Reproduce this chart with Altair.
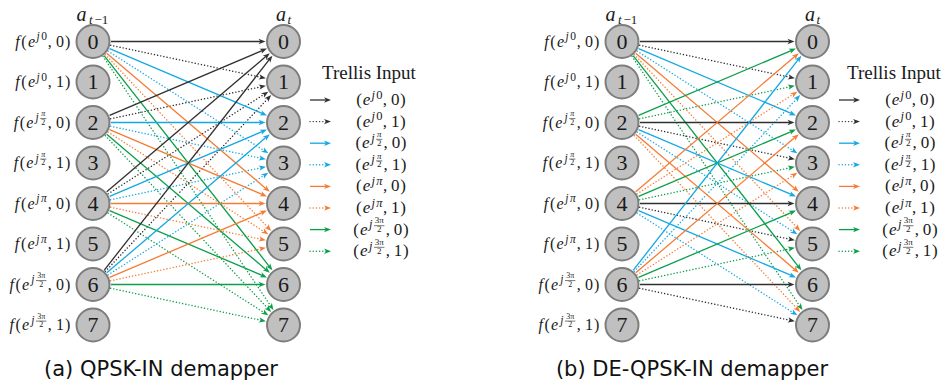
import math
import altair as alt
import pandas as pd

# ------------------------------------------------------------------ data
STATES = [0, 1, 2, 3, 4, 5, 6, 7]
SOURCE_STATES = [0, 2, 4, 6]
PHASES = ["0", "π/2", "π", "3π/2"]          # exponent of e^{j·}
BITS = [0, 1]
INPUT_COLORS = ["#303030", "#15a8e3", "#f47c34", "#0b9f4a"]
PANELS = ["qpsk", "deqpsk"]
CAPTIONS = ["(a) QPSK-IN demapper", "(b) DE-QPSK-IN demapper"]
LEGEND_TITLE = "Trellis Input"


def next_state(panel, s, k, b):
    if panel == "qpsk":
        return 2 * k + b
    return 2 * ((s // 2 + k) % 4) + b


# ------------------------------------------------------------------ layout
W, H = 935, 374
PANEL_DX = [0, 529]
COL_X = [85, 275.5]
ROW_Y0, ROW_DY = 33.5, 40.5
NODE_R = 18.0
ARROW_LEN = 7.0
LEG_X0, LEG_X1 = 302, 323
LEG_LABEL_CX = 373
LEG_Y0, LEG_DY = 92, 21.6
FONT = "Liberation Serif"

BASE, SUP, FRAC = 16, 11.5, 8.0
ADV = {"f": 6.5, "(": 6.5, "e": 8.5, ",": 4.5, " ": 3.5, "d": 9.0, ")": 6.5,
       "j": 5.0, "s0": 6.8, "sπ": 7.2}
FRAC_W = {"π/2": 6.8, "3π/2": 11.0}


def math_label(with_f, k, b):
    """glyph list (x_center_offset, dy, text, size, italic) and fraction bars"""
    g, bars = [], []
    x = 0.0

    def put(t, adv, size, it, dy=0.0):
        nonlocal x
        g.append((x + adv / 2, dy, t, size, it))
        x += adv

    if with_f:
        put("f", ADV["f"], BASE, True)
    put("(", ADV["("], BASE, False)
    put("e", ADV["e"], BASE, True)
    put("j", ADV["j"] + (0.8 if "/" in PHASES[k] else 0), SUP, True, -6.5)
    ph = PHASES[k]
    if ph == "0":
        put("0", ADV["s0"], SUP, False, -6.5)
    elif ph == "π":
        put("π", ADV["sπ"], SUP, True, -6.5)
    else:
        num = ph.split("/")[0]
        w = FRAC_W[ph]
        g.append((x + w / 2, -11.2, num, FRAC, num == "π"))
        g.append((x + w / 2, -2.6, "2", FRAC, False))
        bars.append((x + 0.3, x + w - 0.3, -8.9))
        x += w + 0.8
    put(",", ADV[","], BASE, False)
    x += ADV[" "]
    put(str(b), ADV["d"], BASE, False)
    put(")", ADV[")"], BASE, False)
    return g, bars, x


edges, heads, nodes, texts, fbars = [], [], [], [], []


def add_text(x, y, t, size, italic, color="#1a1a1a", font=FONT, align="center"):
    texts.append(dict(x=x, y=y, label=t, fs=float(size),
                      fst="italic" if italic else "normal",
                      col=color, fnt=font, al=align))


def add_arrow(x1, y1, x2, y2, color, dotted, shorten_start=0.0, shorten_end=0.0):
    dx, dy = x2 - x1, y2 - y1
    L = math.hypot(dx, dy)
    ux, uy = dx / L, dy / L
    sx, sy = x1 + ux * shorten_start, y1 + uy * shorten_start
    tx, ty = x2 - ux * shorten_end, y2 - uy * shorten_end
    ex, ey = tx - ux * (ARROW_LEN - 2.5), ty - uy * (ARROW_LEN - 2.5)
    edges.append(dict(x=sx, y=sy, x2=ex, y2=ey, color=color, dotted=dotted))
    ang = math.degrees(math.atan2(ux, -uy)) % 360
    heads.append(dict(x=tx, y=ty, angle=ang, color=color))


for p, panel in enumerate(PANELS):
    ox = PANEL_DX[p]
    for s in SOURCE_STATES:
        for k in range(4):
            for b in BITS:
                d = next_state(panel, s, k, b)
                add_arrow(ox + COL_X[0], ROW_Y0 + ROW_DY * s,
                          ox + COL_X[1], ROW_Y0 + ROW_DY * d,
                          INPUT_COLORS[k], b == 1, NODE_R, NODE_R)
    for c in range(2):
        for s in STATES:
            nodes.append(dict(x=ox + COL_X[c], y=ROW_Y0 + ROW_DY * s))
            add_text(ox + COL_X[c], ROW_Y0 + ROW_DY * s + 7.3, str(s), 22, False)
    add_text(ox + COL_X[0] - 11.5, 12.5, "a", 20, True)
    add_text(ox + COL_X[0] - 4, 15.5, "t", 13, True, align="left")
    add_text(ox + COL_X[0] + 1.5, 15.5, "−1", 13, False, align="left")
    add_text(ox + COL_X[1] - 2.5, 12.5, "a", 20, True)
    add_text(ox + COL_X[1] + 4, 15.5, "t", 13, True, align="left")
    for s in STATES:
        g, bars, wtot = math_label(True, s // 2, s % 2)
        x0 = ox + COL_X[0] - 22 - wtot
        yb = ROW_Y0 + ROW_DY * s + 5
        for gx, gdy, t, size, it in g:
            add_text(x0 + gx, yb + gdy, t, size, it)
        for bx0, bx1, bdy in bars:
            fbars.append(dict(x=x0 + bx0, x2=x0 + bx1, y=yb + bdy))
    add_text(min(ox + 361, W - 49), 71, LEGEND_TITLE, 19, False)
    for k in range(4):
        for b in BITS:
            i = 2 * k + b
            yy = LEG_Y0 + LEG_DY * i
            add_arrow(ox + LEG_X0, yy, ox + LEG_X1, yy, INPUT_COLORS[k], b == 1)
            g, bars, wtot = math_label(False, k, b)
            x0 = ox + LEG_LABEL_CX - wtot / 2
            yb = yy + 5
            for gx, gdy, t, size, it in g:
                add_text(x0 + gx, yb + gdy, t, size + 1, it)
            for bx0, bx1, bdy in bars:
                fbars.append(dict(x=x0 + bx0, x2=x0 + bx1, y=yb + bdy))

add_text(153, 368, CAPTIONS[0], 21, False, color="#111111", font="DejaVu Sans")
add_text(684, 368, CAPTIONS[1], 21, False, color="#111111", font="DejaVu Sans")

edges_df = pd.DataFrame(edges)
heads_df = pd.DataFrame(heads)
nodes_df = pd.DataFrame(nodes)
texts_df = pd.DataFrame(texts)
bars_df = pd.DataFrame(fbars)

xs = alt.Scale(domain=[0, W], nice=False, zero=False)
ys = alt.Scale(domain=[0, H], nice=False, zero=False, reverse=True)
X = alt.X("x:Q", scale=xs, axis=None)
Y = alt.Y("y:Q", scale=ys, axis=None)
COL = alt.Color("color:N", scale=None, legend=None)

solid = alt.Chart(edges_df[~edges_df.dotted]).mark_rule(strokeWidth=1.3).encode(
    x=X, y=Y, x2="x2:Q", y2="y2:Q", color=COL)
dotted = alt.Chart(edges_df[edges_df.dotted]).mark_rule(
    strokeWidth=1.4, strokeDash=[0.1, 3.1], strokeCap="round").encode(
    x=X, y=Y, x2="x2:Q", y2="y2:Q", color=COL)
ARROW_PATH = "M0,0 L-0.62,1.6 L0,1.15 L0.62,1.6 Z"
arrowheads = alt.Chart(heads_df).mark_point(
    shape=ARROW_PATH, filled=True, size=(ARROW_LEN / 1.6 * 2) ** 2, opacity=1,
    strokeWidth=0).encode(
    x=X, y=Y, angle=alt.Angle("angle:Q", scale=None), color=COL)
circles = alt.Chart(nodes_df).mark_point(
    shape="circle", filled=True, size=33 * 33, fill="#c0c0c0", stroke="#7d7d7d",
    strokeWidth=2, opacity=1).encode(x=X, y=Y)
fb = alt.Chart(bars_df).mark_rule(strokeWidth=0.6, color="#1a1a1a").encode(
    x=X, x2="x2:Q", y=Y)

text_layers = []
for (fnt, fst, al, fs, col), sub in texts_df.groupby(["fnt", "fst", "al", "fs", "col"]):
    text_layers.append(alt.Chart(sub[["x", "y", "label"]]).mark_text(
        font=fnt, fontStyle=fst, align=al, baseline="alphabetic",
        fontSize=fs, color=col).encode(x=X, y=Y, text="label:N"))

chart = alt.layer(dotted, solid, arrowheads, circles, fb, *text_layers).properties(
    width=W, height=H, padding=0, autosize="none"
).configure_view(stroke=None)

chart.save("out.html", embed_options={"renderer": "svg", "actions": False})
